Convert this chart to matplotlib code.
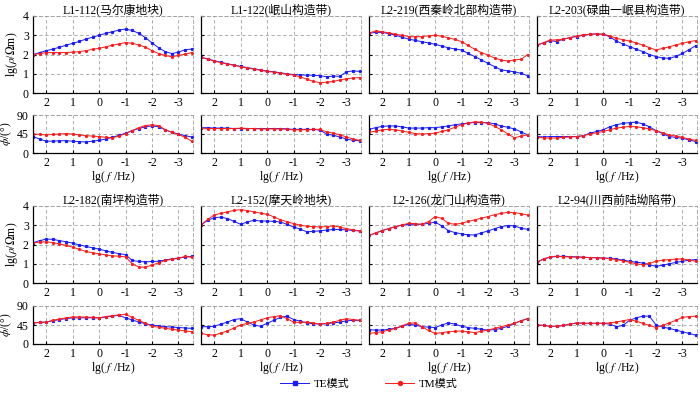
import numpy as np
import matplotlib
matplotlib.use("Agg")
import matplotlib.pyplot as plt

plt.rcParams['font.family'] = ['Liberation Serif', 'Noto Sans CJK SC']
plt.rcParams['mathtext.fontset'] = 'stix'
plt.rcParams['axes.unicode_minus'] = False

# frecuencias comunes (lg f)
lgf = [2.5, 2.25, 2.0, 1.75, 1.5, 1.25, 1.0, 0.75, 0.5, 0.25, 0.0, -0.25, -0.5,
       -0.75, -1.0, -1.25, -1.5, -1.75, -2.0, -2.25, -2.5, -2.75, -3.0, -3.25, -3.5]

titulos = ["L1-112(马尔康地块)", "L1-122(岷山构造带)", "L2-219(西秦岭北部构造带)",
           "L2-203(碌曲一岷县构造带)", "L2-182(南坪构造带)", "L2-152(摩天岭地块)",
           "L2-126(龙门山构造带)", "L2-94(川西前陆坳陷带)"]

# resistividad aparente lg(rho), modo TE
rho_te = [
    [2.0, 2.1, 2.2, 2.28, 2.38, 2.48, 2.58, 2.68, 2.8, 2.9, 3.0, 3.1, 3.18, 3.27, 3.32, 3.25, 3.1, 2.88, 2.6, 2.35, 2.15, 2.05, 2.12, 2.25, 2.28],
    [1.85, 1.78, 1.68, 1.6, 1.52, 1.45, 1.38, 1.32, 1.26, 1.2, 1.14, 1.1, 1.05, 1.0, 0.96, 0.94, 0.93, 0.92, 0.9, 0.84, 0.88, 0.87, 1.1, 1.15, 1.12],
    [3.1, 3.15, 3.15, 3.08, 3.01, 2.9, 2.8, 2.73, 2.67, 2.6, 2.53, 2.44, 2.35, 2.29, 2.23, 2.06, 1.89, 1.72, 1.54, 1.37, 1.2, 1.15, 1.1, 1.02, 0.9],
    [2.49, 2.6, 2.72, 2.67, 2.8, 2.88, 2.93, 3.0, 3.05, 3.07, 3.05, 2.92, 2.7, 2.55, 2.41, 2.28, 2.15, 2.0, 1.89, 1.82, 1.8, 1.9, 2.06, 2.25, 2.46],
    [2.09, 2.2, 2.28, 2.27, 2.2, 2.14, 2.07, 1.98, 1.9, 1.83, 1.76, 1.67, 1.59, 1.53, 1.47, 1.17, 1.12, 1.1, 1.12, 1.13, 1.2, 1.25, 1.29, 1.35, 1.38],
    [3.02, 3.25, 3.4, 3.42, 3.35, 3.2, 3.05, 3.17, 3.26, 3.22, 3.22, 3.2, 3.17, 3.05, 2.91, 2.8, 2.66, 2.68, 2.71, 2.75, 2.78, 2.78, 2.76, 2.73, 2.7],
    [2.47, 2.6, 2.72, 2.83, 2.93, 3.0, 3.05, 3.05, 3.05, 3.1, 3.16, 2.97, 2.72, 2.62, 2.55, 2.5, 2.5, 2.6, 2.71, 2.82, 2.93, 2.98, 2.97, 2.84, 2.79],
    [1.08, 1.25, 1.34, 1.38, 1.39, 1.37, 1.36, 1.34, 1.32, 1.31, 1.3, 1.28, 1.25, 1.19, 1.13, 1.08, 1.04, 0.95, 0.87, 0.92, 1.0, 1.07, 1.13, 1.18, 1.22],
]

# resistividad aparente lg(rho), modo TM
rho_tm = [
    [2.0, 2.05, 2.1, 2.1, 2.1, 2.1, 2.12, 2.15, 2.2, 2.27, 2.32, 2.4, 2.48, 2.55, 2.62, 2.58, 2.5, 2.38, 2.2, 2.05, 1.95, 1.88, 1.95, 2.02, 2.1],
    [1.85, 1.76, 1.66, 1.58, 1.5, 1.44, 1.37, 1.3, 1.24, 1.18, 1.12, 1.08, 1.03, 0.98, 0.93, 0.84, 0.72, 0.6, 0.54, 0.56, 0.6, 0.68, 0.74, 0.78, 0.8],
    [3.12, 3.22, 3.19, 3.12, 3.05, 3.0, 2.93, 2.92, 2.93, 2.97, 3.0, 2.95, 2.87, 2.78, 2.67, 2.47, 2.27, 2.1, 1.97, 1.82, 1.71, 1.66, 1.72, 1.75, 2.0],
    [2.49, 2.62, 2.75, 2.76, 2.79, 2.88, 2.96, 3.02, 3.05, 3.07, 3.05, 2.97, 2.84, 2.77, 2.7, 2.6, 2.49, 2.36, 2.23, 2.32, 2.4, 2.5, 2.58, 2.67, 2.72],
    [2.09, 2.13, 2.14, 2.1, 2.03, 1.95, 1.86, 1.75, 1.64, 1.57, 1.52, 1.46, 1.41, 1.39, 1.36, 1.0, 0.83, 0.82, 0.93, 1.05, 1.17, 1.23, 1.29, 1.38, 1.34],
    [3.02, 3.3, 3.53, 3.62, 3.7, 3.77, 3.81, 3.76, 3.7, 3.63, 3.57, 3.44, 3.29, 3.18, 3.09, 3.0, 2.95, 2.93, 2.91, 2.93, 2.97, 2.9, 2.83, 2.76, 2.71],
    [2.47, 2.6, 2.72, 2.83, 2.93, 3.02, 3.1, 3.08, 3.05, 3.19, 3.45, 3.36, 3.1, 3.05, 3.1, 3.2, 3.28, 3.37, 3.45, 3.55, 3.62, 3.67, 3.66, 3.6, 3.53],
    [1.08, 1.25, 1.36, 1.39, 1.37, 1.35, 1.34, 1.33, 1.32, 1.31, 1.3, 1.26, 1.22, 1.15, 1.08, 1.0, 0.95, 1.02, 1.13, 1.18, 1.22, 1.24, 1.25, 1.2, 1.13],
]

# fase (grados), modo TE
fase_te = [
    [39, 33, 28, 28, 29, 29, 28, 27, 26, 28, 30, 33, 37, 42, 47, 53, 58, 62, 64, 62, 55, 49, 45, 41, 38],
    [60, 60, 59, 59, 59, 58, 58, 58, 58, 58, 58, 58, 58, 57, 56, 56, 56, 56, 54, 45, 42, 38, 33, 30, 29],
    [56, 60, 63, 64, 64, 62, 59, 59, 59, 60, 60, 62, 64, 67, 69, 71, 72, 72, 72, 69, 64, 61, 57, 50, 43],
    [39, 38, 39, 39, 39, 39, 39, 41, 47, 51, 55, 62, 67, 70, 72, 73, 69, 62, 53, 46, 39, 37, 35, 31, 27],
    [50, 51, 52, 55, 58, 60, 62, 62, 62, 62, 62, 64, 66, 68, 62, 57, 52, 48, 45, 43, 41, 40, 39, 38, 37],
    [41, 41, 42, 47, 52, 58, 60, 52, 45, 42, 49, 56, 63, 66, 58, 54, 50, 48, 47, 48, 50, 52, 55, 56, 56],
    [34, 33, 33, 35, 37, 42, 47, 45, 41, 40, 39, 45, 50, 47, 42, 39, 37, 35, 33, 34, 37, 42, 49, 55, 60],
    [45, 44, 42, 42, 44, 47, 50, 49, 49, 49, 49, 47, 41, 44, 56, 62, 66, 66, 45, 40, 37, 33, 29, 25, 21],
]

# fase (grados), modo TM
fase_tm = [
    [45, 44, 43, 44, 45, 46, 45, 43, 41, 40, 39, 37, 36, 40, 46, 53, 60, 65, 67, 65, 55, 49, 44, 37, 28],
    [59, 58, 58, 58, 58, 58, 59, 58, 58, 57, 57, 57, 57, 56, 55, 55, 55, 56, 56, 50, 47, 43, 38, 33, 30],
    [49, 52, 55, 56, 55, 52, 49, 46, 45, 46, 47, 51, 55, 61, 67, 71, 74, 73, 70, 63, 55, 45, 36, 40, 43],
    [37, 36, 35, 36, 37, 38, 39, 41, 45, 48, 51, 55, 59, 61, 63, 62, 60, 57, 53, 48, 43, 40, 37, 33, 30],
    [50, 51, 52, 56, 59, 62, 64, 64, 64, 63, 62, 65, 67, 69, 70, 63, 56, 49, 42, 40, 37, 35, 33, 31, 29],
    [25, 22, 21, 26, 31, 38, 45, 49, 52, 57, 62, 65, 67, 60, 52, 51, 52, 50, 47, 49, 52, 56, 60, 58, 56],
    [25, 27, 29, 33, 37, 43, 49, 50, 41, 32, 25, 27, 29, 30, 31, 29, 27, 30, 33, 37, 41, 45, 49, 55, 60],
    [45, 44, 42, 42, 44, 47, 50, 49, 49, 49, 49, 50, 52, 55, 58, 54, 49, 44, 39, 44, 50, 56, 63, 65, 66],
]

azul = '#1a1aff'
rojo = '#ff1a1a'
gris = '#a0a0a0'

fig = plt.figure(figsize=(7.0, 3.93), dpi=100)
W, H = 700.0, 393.0
izq = [33, 201, 369, 537]
ancho = 160
filas = [(16, 93, 115, 153), (206, 283, 306, 344)]


def estilo(ax):
    ax.set_xlim(2.5, -3.55)
    ax.set_xticks([2, 1, 0, -1, -2, -3])
    ax.grid(True, linestyle=(0, (4, 3)), color=gris, linewidth=0.6)
    for s in ['top', 'right']:
        ax.spines[s].set_color(gris)
        ax.spines[s].set_linestyle((0, (4, 3)))
        ax.spines[s].set_linewidth(0.6)
    for s in ['left', 'bottom']:
        ax.spines[s].set_linewidth(0.9)
    ax.tick_params(direction='in', length=2, labelsize=8.5, pad=3)


for i in range(8):
    fila = i // 4
    col = i % 4
    t1, b1, t2, b2 = filas[fila]
    x0 = izq[col] / W
    ax1 = fig.add_axes([x0, 1 - b1 / H, ancho / W, (b1 - t1) / H])
    ax2 = fig.add_axes([x0, 1 - b2 / H, ancho / W, (b2 - t2) / H])

    ax1.plot(lgf, rho_te[i], '-s', color=azul, lw=0.7, ms=1.3, label='TE模式')
    ax1.plot(lgf, rho_tm[i], '-o', color=rojo, lw=0.7, ms=1.3, label='TM模式')
    ax2.plot(lgf, fase_te[i], '-s', color=azul, lw=0.7, ms=1.3)
    ax2.plot(lgf, fase_tm[i], '-o', color=rojo, lw=0.7, ms=1.3)

    ax1.set_ylim(0, 4)
    ax1.set_yticks([0, 1, 2, 3, 4])
    ax2.set_ylim(0, 90)
    ax2.set_yticks([0, 45, 90])
    estilo(ax1)
    estilo(ax2)
    ax1.set_title(titulos[i], fontsize=8.5, pad=2)
    ax2.set_xlabel('lg( $f$ /Hz)', fontsize=8.5, labelpad=0)
    if col == 0:
        ax1.set_ylabel(r'lg($\rho$/$\Omega$m)', fontsize=8.5, labelpad=2)
        ax2.set_ylabel(r'$\phi$/(°)', fontsize=8.5, labelpad=2)
    else:
        ax1.set_yticklabels([])
        ax2.set_yticklabels([])
    if i == 0:
        manejadores, etiquetas = ax1.get_legend_handles_labels()

fig.legend(manejadores, etiquetas, loc='center', bbox_to_anchor=(0.527, 1 - 384 / H),
           ncol=2, frameon=False, fontsize=8, handlelength=2.6, columnspacing=3.2,
           handletextpad=0.4, markerscale=2.2, borderpad=0)

plt.savefig('out.png', dpi=100)
